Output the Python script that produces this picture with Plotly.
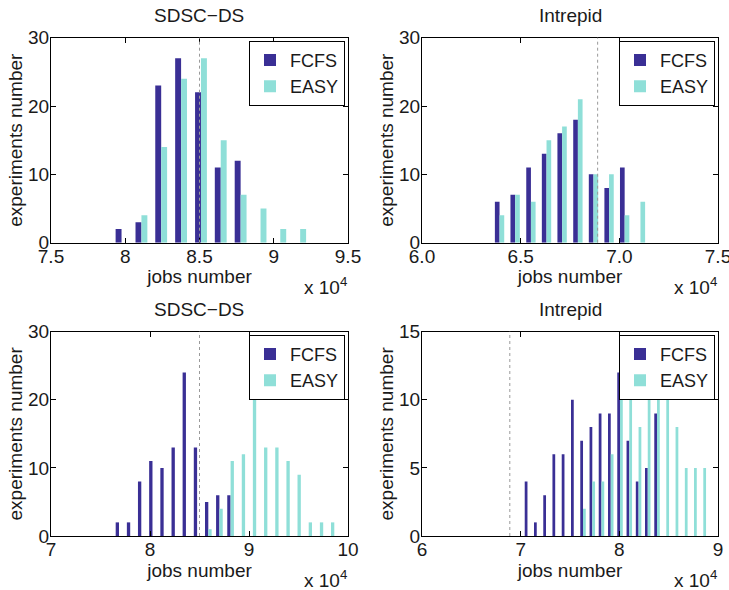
import plotly.graph_objects as go

# ---------------- data (job counts in units of 10^4) ----------------
titles = ["SDSC\u2212DS", "Intrepid", "SDSC\u2212DS", "Intrepid"]

tl_x = [7.975, 8.109, 8.242, 8.376, 8.510, 8.643, 8.777, 8.911, 9.044, 9.178]
tl_fcfs = [2, 3, 23, 27, 22, 11, 12, 0, 0, 0]
tl_easy = [0, 4, 14, 24, 27, 15, 7, 5, 2, 2]
tl_ref = 8.50

tr_x = [6.393, 6.472, 6.552, 6.631, 6.710, 6.790, 6.869, 6.948, 7.027, 7.107]
tr_fcfs = [6, 7, 11, 13, 16, 18, 10, 8, 11, 0]
tr_easy = [4, 7, 6, 15, 17, 21, 10, 10, 4, 6]
tr_ref = 6.89

bl_x = [7.687, 7.800, 7.912, 8.025, 8.138, 8.251, 8.363, 8.476, 8.589, 8.701,
        8.814, 8.927, 9.039, 9.152, 9.265, 9.378, 9.490, 9.603, 9.716, 9.828]
bl_fcfs = [2, 2, 8, 11, 10, 13, 24, 13, 5, 6, 6, 0, 0, 0, 0, 0, 0, 0, 0, 0]
bl_easy = [0, 0, 0, 0, 0, 0, 0, 0, 1, 4, 11, 12, 20, 13, 13, 11, 9, 2, 2, 2]
bl_ref = 8.50

br_x = [7.069, 7.163, 7.257, 7.350, 7.444, 7.538, 7.632, 7.726, 7.819, 7.913,
        8.007, 8.101, 8.195, 8.288, 8.382, 8.476, 8.570, 8.664, 8.757, 8.851]
br_fcfs = [4, 1, 3, 6, 6, 10, 7, 8, 9, 9, 12, 7, 4, 5, 9, 0, 0, 0, 0, 0]
br_easy = [0, 0, 0, 0, 0, 0, 2, 4, 4, 6, 11, 10, 8, 10, 12, 10, 8, 5, 5, 5]
br_ref = 6.89

tl_xticks = [7.5, 8, 8.5, 9, 9.5]
tl_xlabels = ["7.5", "8", "8.5", "9", "9.5"]
tr_xticks = [6.0, 6.5, 7.0, 7.5]
tr_xlabels = ["6.0", "6.5", "7.0", "7.5"]
bl_xticks = [7, 8, 9, 10]
bl_xlabels = ["7", "8", "9", "10"]
br_xticks = [6, 7, 8, 9]
br_xlabels = ["6", "7", "8", "9"]
y30_ticks = [0, 10, 20, 30]
y15_ticks = [0, 5, 10, 15]

series_names = ["FCFS", "EASY"]
# --------------------------------------------------------------------

FCFS_COLOR = "#3a2f95"
EASY_COLOR = "#8fdfd8"
FONT = "Liberation Sans, Arial, Helvetica, sans-serif"
FS = 19
W, H = 729, 590

panels = [
    dict(x=tl_x, f=tl_fcfs, e=tl_easy, ref=tl_ref, xt=tl_xticks, xl=tl_xlabels,
         xr=[7.5, 9.5], yt=y30_ticks, yr=[0, 30], px=(51, 348), py=(37.7, 242.7)),
    dict(x=tr_x, f=tr_fcfs, e=tr_easy, ref=tr_ref, xt=tr_xticks, xl=tr_xlabels,
         xr=[6.0, 7.5], yt=y30_ticks, yr=[0, 30], px=(422, 718), py=(37.7, 242.7)),
    dict(x=bl_x, f=bl_fcfs, e=bl_easy, ref=bl_ref, xt=bl_xticks, xl=bl_xlabels,
         xr=[7, 10], yt=y30_ticks, yr=[0, 30], px=(51, 348), py=(331.7, 536)),
    dict(x=br_x, f=br_fcfs, e=br_easy, ref=br_ref, xt=br_xticks, xl=br_xlabels,
         xr=[6, 9], yt=y15_ticks, yr=[0, 15], px=(422, 718), py=(331.7, 536)),
]

fig = go.Figure()
layout = dict(
    width=W, height=H, margin=dict(l=0, r=0, t=0, b=0, autoexpand=False),
    paper_bgcolor="white", plot_bgcolor="white",
    barmode="group", bargap=0.4, bargroupgap=0.0,
    font=dict(family=FONT, size=FS, color="#1a1a1a"),
    annotations=[], shapes=[],
)

for i, p in enumerate(panels):
    n = i + 1
    sfx = "" if n == 1 else str(n)
    xa, ya = "x" + sfx, "y" + sfx
    leg = "legend" + sfx
    for name, vals, col in [(series_names[0], p["f"], FCFS_COLOR),
                            (series_names[1], p["e"], EASY_COLOR)]:
        fig.add_trace(go.Bar(x=p["x"], y=vals, name=name, marker_color=col,
                             marker_line_width=0, xaxis=xa, yaxis=ya,
                             legend=leg))
    x0, x1 = p["px"][0] / W, p["px"][1] / W
    y0, y1 = 1 - p["py"][1] / H, 1 - p["py"][0] / H
    axstyle = dict(showline=True, linecolor="black", linewidth=1, mirror="ticks",
                   ticks="inside", ticklen=5, tickcolor="black", showgrid=False,
                   zeroline=False, automargin=False, ticklabeloverflow="allow",
                   tickfont=dict(size=FS, family=FONT, color="#1a1a1a"))
    layout["xaxis" + sfx] = dict(domain=[x0, x1], anchor=ya, range=p["xr"],
                                 tickvals=p["xt"], ticktext=p["xl"],
                                 ticklabelstandoff=-4,
                                 title=dict(text="jobs number", standoff=0,
                                            font=dict(size=FS)), **axstyle)
    layout["yaxis" + sfx] = dict(domain=[y0, y1], anchor=xa, range=p["yr"],
                                 tickvals=p["yt"], ticklabelstandoff=-3,
                                 title=dict(text="experiments number", standoff=0,
                                            font=dict(size=FS)), **axstyle)
    layout[leg] = dict(x=x1 - 3 / W, y=y1 - 3 / H, xanchor="right", yanchor="top",
                       bgcolor="white", bordercolor="black", borderwidth=1,
                       font=dict(size=18, family=FONT, color="#1a1a1a"),
                       itemwidth=30, tracegroupgap=0)
    layout["shapes"].append(dict(type="line", xref=xa, yref=ya + " domain",
                                 x0=p["ref"], x1=p["ref"], y0=0, y1=1,
                                 line=dict(color="#9a9a9a", width=1, dash="dot")))
    layout["annotations"].append(dict(text=titles[i], xref="paper", yref="paper",
                                      x=(x0 + x1) / 2, y=1 - (p["py"][0] - 22) / H,
                                      xanchor="center", yanchor="middle",
                                      showarrow=False, font=dict(size=FS)))
    layout["annotations"].append(dict(text="x 10<sup>4</sup>", xref="paper", yref="paper",
                                      x=(p["px"][1] + 1) / W, y=1 - (p["py"][1] + 43) / H,
                                      xanchor="right", yanchor="middle",
                                      showarrow=False, font=dict(size=FS)))

fig.update_layout(**layout)
fig.write_html("out.html", config={"displayModeBar": False},
               post_script="document.body.style.margin='0';")
